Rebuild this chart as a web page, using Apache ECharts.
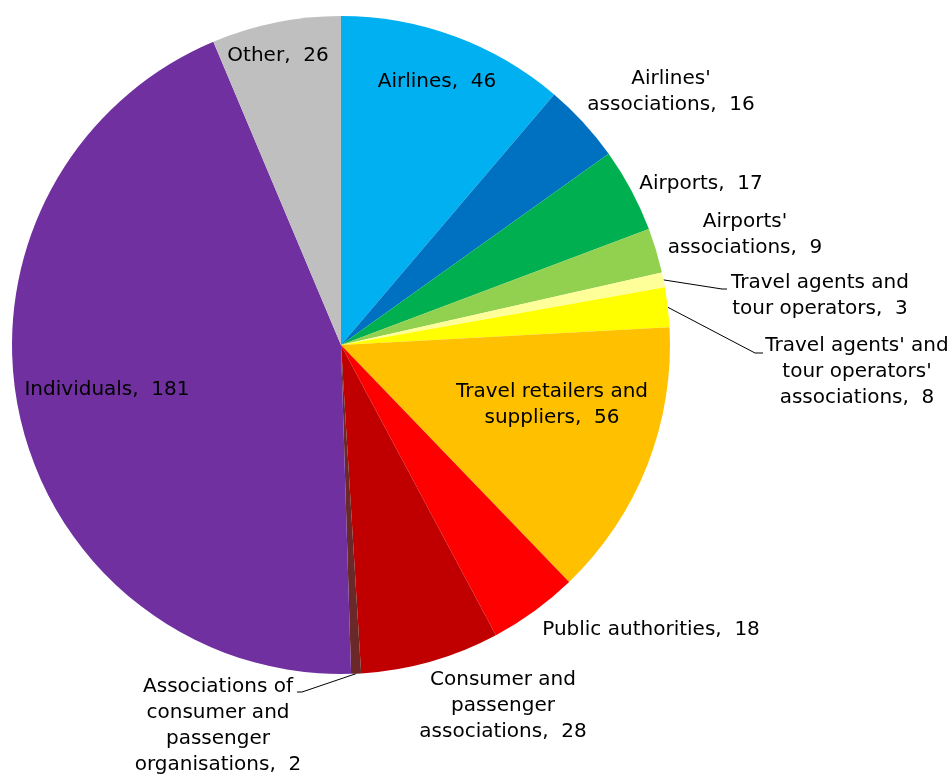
<!DOCTYPE html>
<html>
<head>
<meta charset="utf-8">
<script src="https://cdn.jsdelivr.net/npm/echarts@6/dist/echarts.min.js"></script>
<style>
  html, body { margin: 0; padding: 0; background: #ffffff; }
  #chart { width: 952px; height: 776px; }
</style>
</head>
<body>
<div id="chart"></div>
<script>
// Respondents by stakeholder group
const categories = [
  "Airlines",
  "Airlines' associations",
  "Airports",
  "Airports' associations",
  "Travel agents and tour operators",
  "Travel agents' and tour operators' associations",
  "Travel retailers and suppliers",
  "Public authorities",
  "Consumer and passenger associations",
  "Associations of consumer and passenger organisations",
  "Individuals",
  "Other"
];
const counts = [46, 16, 17, 9, 3, 8, 56, 18, 28, 2, 181, 26];

// Wrapped label text for each slice
const labelNames = [
  "Airlines",
  "Airlines'\nassociations",
  "Airports",
  "Airports'\nassociations",
  "Travel agents and\ntour operators",
  "Travel agents' and\ntour operators'\nassociations",
  "Travel retailers and\nsuppliers",
  "Public authorities",
  "Consumer and\npassenger\nassociations",
  "Associations of\nconsumer and\npassenger\norganisations",
  "Individuals",
  "Other"
];

const sliceColors = [
  "#00B0F0", "#0070C0", "#00B050", "#92D050", "#FFFF99", "#FFFF00",
  "#FFC000", "#FF0000", "#C00000", "#6A2828", "#7030A0", "#BFBFBF"
];

// Label anchor (text block centre) for each slice
const labelAnchors = [
  [437, 82], [671, 92], [701, 184], [745, 235], [820, 296], [857, 372],
  [552, 405], [651, 630], [503, 706], [218, 726], [107, 390], [278, 56]
];
// Leader line bend and end points, for the slices that have one
const leaderPaths = {
  4: [[722, 289], [727, 289]],
  5: [[755, 353], [763, 353]],
  9: [[302, 692], [297, 692]]
};

const chart = echarts.init(document.getElementById('chart'), null, { renderer: 'canvas' });

const seriesData = categories.map((name, i) => ({
  name: name,
  value: counts[i],
  itemStyle: { color: sliceColors[i] },
  labelLine: { show: leaderPaths[i] !== undefined }
}));

chart.setOption({
  animation: false,
  series: [{
    type: 'pie',
    center: [341, 345],
    radius: [0, 329],
    startAngle: 90,
    clockwise: true,
    avoidLabelOverlap: false,
    itemStyle: { borderWidth: 0 },
    label: {
      show: true,
      position: 'outside',
      color: '#000000',
      fontFamily: '"DejaVu Sans", sans-serif',
      fontSize: 20,
      lineHeight: 26,
      align: 'center',
      formatter: function (p) {
        return labelNames[p.dataIndex] + ',  ' + p.value;
      }
    },
    labelLine: {
      show: false,
      length: 20,
      length2: 10,
      lineStyle: { color: '#000000', width: 1 }
    },
    labelLayout: function (params) {
      const i = params.dataIndex;
      const a = labelAnchors[i];
      const out = { x: a[0], y: a[1], align: 'center', verticalAlign: 'middle' };
      if (leaderPaths[i] && params.labelLinePoints) {
        out.labelLinePoints = [params.labelLinePoints[0]].concat(leaderPaths[i]);
      }
      return out;
    },
    emphasis: { disabled: true },
    data: seriesData
  }]
});
</script>
</body>
</html>
